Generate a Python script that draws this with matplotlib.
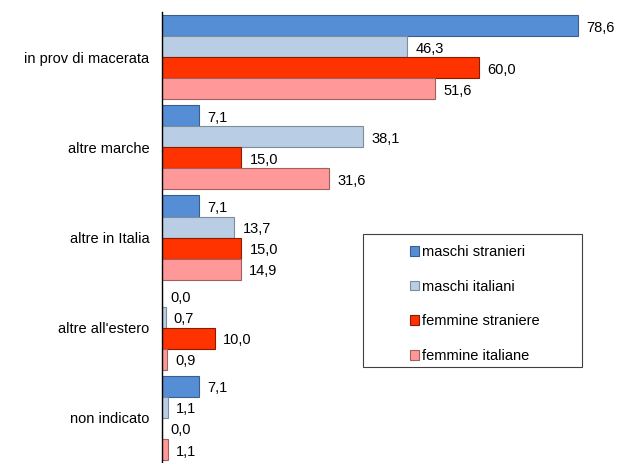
import matplotlib.pyplot as plt
from matplotlib.patches import Rectangle
import numpy as np

plt.rcParams['font.family'] = ['Liberation Sans', 'DejaVu Sans']

categorie = ["in prov di macerata", "altre marche", "altre in Italia",
             "altre all'estero", "non indicato"]
serie = ["maschi stranieri", "maschi italiani", "femmine straniere", "femmine italiane"]
maschi_stranieri = [78.6, 7.1, 7.1, 0.0, 7.1]
maschi_italiani = [46.3, 38.1, 13.7, 0.7, 1.1]
femmine_straniere = [60.0, 15.0, 15.0, 10.0, 0.0]
femmine_italiane = [51.6, 31.6, 14.9, 0.9, 1.1]
valori = [maschi_stranieri, maschi_italiani, femmine_straniere, femmine_italiane]
colori = ["#558ED5", "#B9CDE5", "#FF3300", "#FF9999"]
bordi = ["#3A5F8F", "#7F8C99", "#8B1A00", "#A06060"]

fs = 10.5
fig = plt.figure(figsize=(6.2, 4.63), dpi=100)
ax = fig.add_axes([0.261, 0.0, 0.683, 0.974])

n = len(categorie)
larg = 0.233
grp = np.arange(n)
for i, (vals, c, b, lab) in enumerate(zip(valori, colori, bordi, serie)):
    pos = grp - 1.5 * larg + i * larg
    ax.barh(pos, vals, height=larg, color=c, edgecolor=b, linewidth=0.8, label=lab)
    for p, v in zip(pos, vals):
        ax.annotate(f"{v:.1f}".replace(".", ","), (v, p), xytext=(6, -1.5),
                    textcoords="offset points", va="center", ha="left", fontsize=fs)

ax.set_ylim(n - 0.5, -0.5)
ax.set_xlim(0, 80)
ax.set_yticks(grp)
ax.set_yticklabels(categorie, fontsize=fs)
ax.tick_params(axis="y", length=0, pad=9)
ax.set_xticks([])
for s in ["top", "right", "bottom"]:
    ax.spines[s].set_visible(False)
ax.spines["left"].set_linewidth(1.0)

# riquadro della legenda
fig.patches.append(Rectangle((363 / 620, 1 - 367 / 463), 219 / 620, 133 / 463,
                             transform=fig.transFigure, fill=False,
                             edgecolor="#404040", linewidth=0.8))
leg = fig.legend(loc="upper left", bbox_to_anchor=(410 / 620, 1 - 245 / 463),
                 fontsize=fs, frameon=False,
                 handlelength=0.65, handleheight=0.65, handletextpad=0.2,
                 labelspacing=1.42, borderpad=0, borderaxespad=0)

fig.savefig("out.png", dpi=100)
